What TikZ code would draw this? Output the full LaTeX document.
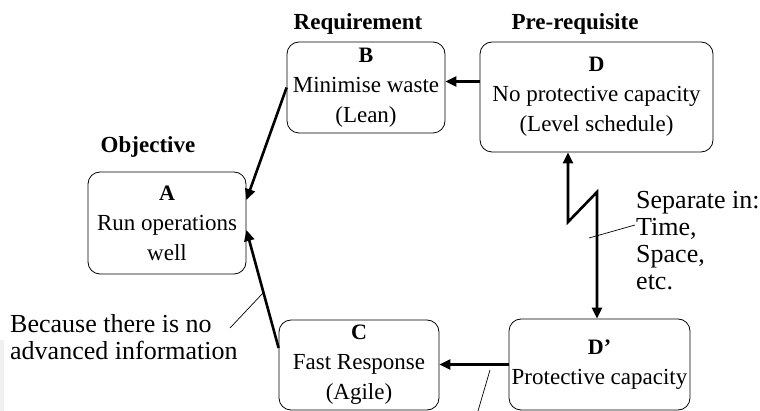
\documentclass[tikz,border=0pt]{standalone}
\usepackage{fontspec}
\setmainfont{Liberation Serif}
\usetikzlibrary{arrows.meta,calc}
\newcommand{\boxlet}[1]{\textbf{\fontsize{22}{30}\selectfont #1}}
\begin{document}
\begin{tikzpicture}[x=1pt,y=-1pt,
 box/.style={draw, rounded corners=12pt, line width=0.8pt, align=center, inner sep=0pt, font=\fontsize{23}{30}\selectfont},
 title/.style={font=\bfseries\fontsize{23}{28}\selectfont, anchor=base, inner sep=0pt},
 lbl/.style={font=\fontsize{26}{27}\selectfont, align=left, anchor=west, inner sep=0pt},
 arr/.style={line width=2.6pt, -{Triangle[length=11pt,width=10pt]}},
 pointer/.style={line width=0.7pt}]
\useasboundingbox (0,0) rectangle (760,411);
\fill[gray!12] (0,340) rectangle (4,411);

\node[box, minimum width=158pt, minimum height=102pt] (A) at (167,223) {\boxlet{A}\\Run operations\\well};
\node[box, minimum width=158pt, minimum height=91pt] (B) at (366,87.5) {\boxlet{B}\\Minimise waste\\(Lean)};
\node[box, minimum width=233pt, minimum height=110pt] (D) at (596.5,97) {\boxlet{D}\\No protective capacity\\(Level schedule)};
\node[box, minimum width=160pt, minimum height=90pt] (C) at (359,365) {\boxlet{C}\\Fast Response\\(Agile)};
\node[box, minimum width=181pt, minimum height=91pt] (Dp) at (599.5,364.5) {\boxlet{D’}\\Protective capacity};

\node[title] (treq) at (358,30) {Requirement};
\node[title] (tpre) at (575,30) {Pre-requisite};
\node[title] (tobj) at (148,153) {Objective};

\node[lbl] (because) at (10,337) {Because there is no\\advanced information};
\node[lbl] (sep) at (636,241) {Separate in:\\Time,\\Space,\\etc.};

\draw[arr] (B.west) -- ([yshift=23pt]A.east);
\draw[arr] ([yshift=15.5pt]D.west) -- ([yshift=15.5pt]D.west -| B.east);
\draw[arr] ([yshift=17pt]C.west) -- ([yshift=-7pt]A.east);
\draw[arr] (Dp.west) -- (Dp.west -| C.east);

\coordinate (z1) at (597,192);
\coordinate (z2) at (568,222);
\draw[line width=2.6pt, line join=miter, {Triangle[length=11pt,width=10pt]}-{Triangle[length=11pt,width=10pt]}] (z2 |- D.south) -- (z2) -- (z1) -- (z1 |- Dp.north);

\coordinate (q1) at (230,328);
\coordinate (p1) at (263,293);
\draw[pointer] (q1) -- (p1);
\coordinate (q2) at (635,225);
\coordinate (p2) at (589,238);
\draw[pointer] (q2) -- (p2);
\coordinate (q3) at (490,370);
\coordinate (p3) at (478,411);
\draw[pointer] (q3) -- (p3);
\end{tikzpicture}
\end{document}
